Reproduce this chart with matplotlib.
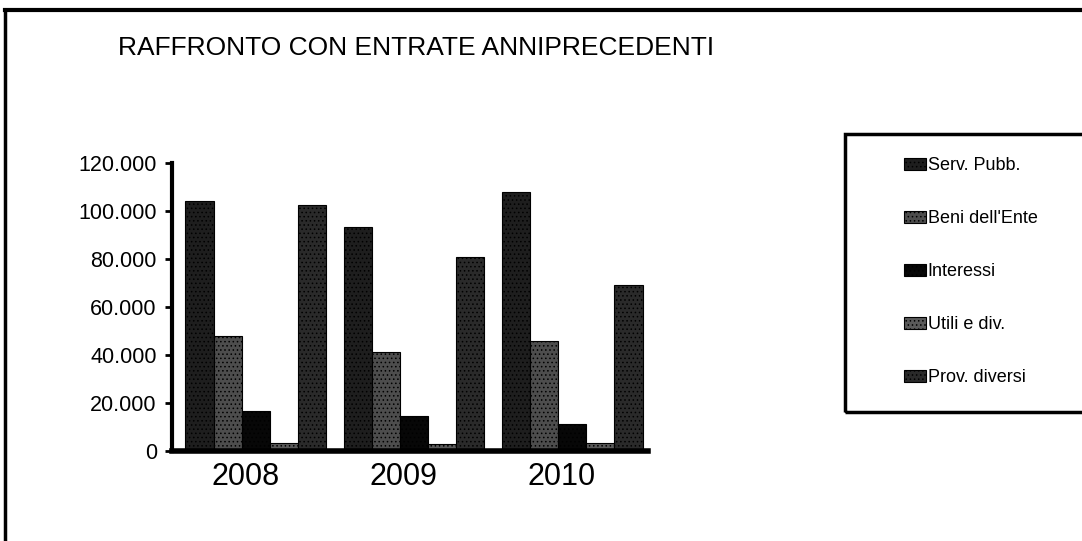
import matplotlib.pyplot as plt
from matplotlib.patches import Rectangle
from matplotlib.lines import Line2D
import numpy as np

plt.rcParams['font.family'] = ['Liberation Sans', 'DejaVu Sans']
plt.rcParams['hatch.color'] = '#8a8a8a'
plt.rcParams['hatch.linewidth'] = 0.6

# Data
years = ['2008', '2009', '2010']
series = ['Serv. Pubb.', "Beni dell'Ente", 'Interessi', 'Utili e div.', 'Prov. diversi']
serv_pubb = [104000, 93300, 107900]
beni_ente = [47900, 41200, 45800]
interessi = [16700, 14600, 11200]
utili_div = [3300, 2900, 3300]
prov_diversi = [102500, 80800, 69200]
yticks = [0, 20000, 40000, 60000, 80000, 100000, 120000]
ytick_labels = ['0', '20.000', '40.000', '60.000', '80.000', '100.000', '120.000']

values = [serv_pubb, beni_ente, interessi, utili_div, prov_diversi]
colors = ['#1e1e1e', '#4d4d4d', '#070707', '#5a5a5a', '#2a2a2a']

fig = plt.figure(figsize=(10.82, 5.41), dpi=100)
ax = fig.add_axes([0.159, 0.1664, 0.44, 0.5323])

x = np.arange(len(years))
w = 0.178
for k, vals in enumerate(values):
    ax.bar(x + (k - 2) * w, vals, width=w, color=colors[k], edgecolor='black',
           linewidth=0.8, hatch='....', label=series[k], zorder=2)

ax.set_xlim(-0.53, 2.48)
ax.set_ylim(0, 120000)
ax.set_yticks(yticks)
ax.set_yticklabels(ytick_labels, fontsize=15.5)
ax.set_xticks(x - 0.065)
ax.set_xticklabels(years, fontsize=22)
ax.tick_params(axis='x', length=0, pad=8)
ax.tick_params(axis='y', length=5, width=2, direction='out', pad=6)

for s in ['top', 'right']:
    ax.spines[s].set_visible(False)
ax.spines['left'].set_linewidth(3)
ax.spines['bottom'].set_linewidth(4)

fig.text(118 / 1082, 1 - 48 / 541, 'RAFFRONTO CON ENTRATE ANNIPRECEDENTI',
         fontsize=19, va='center', ha='left')

# legend box
fig.add_artist(Rectangle((845 / 1082, 1 - 412 / 541), 0.25, (412 - 134) / 541,
                         transform=fig.transFigure, fill=False,
                         edgecolor='black', linewidth=2.5))
handles, labels = ax.get_legend_handles_labels()
fig.legend(handles, labels, loc='upper left',
           bbox_to_anchor=(895 / 1082, 1 - 148 / 541), frameon=False,
           fontsize=13, handlelength=1.2, handleheight=0.65,
           handletextpad=0.1, labelspacing=2.0, borderpad=0)

# outer frame
fig.add_artist(Line2D([5 / 1082, 5 / 1082], [0, 1 - 10 / 541],
                      transform=fig.transFigure, color='black', linewidth=2.5))
fig.add_artist(Line2D([5 / 1082, 1], [1 - 10 / 541, 1 - 10 / 541],
                      transform=fig.transFigure, color='black', linewidth=3))

fig.savefig('out.png', dpi=100)
